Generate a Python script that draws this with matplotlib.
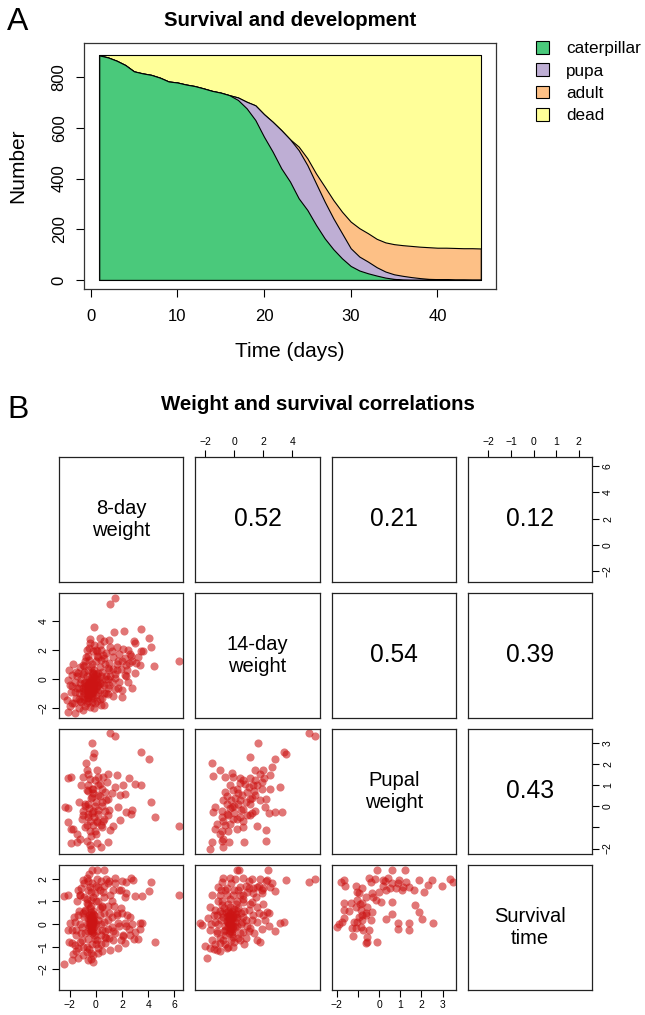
import matplotlib
matplotlib.use("Agg")
import matplotlib.pyplot as plt
from matplotlib.patches import Patch
import numpy as np

plt.rcParams['font.family'] = ['Liberation Sans', 'DejaVu Sans']

W, H = 645, 1015

# ---- panel A: numbers in each stage per day
days = np.arange(1, 46)
total = 886
caterpillar = [886, 878, 865, 848, 823, 815, 809, 798, 783, 779, 771, 765, 756, 746, 739,
               729, 710, 677, 631, 565, 506, 440, 388, 322, 276, 217, 164, 121, 85, 55,
               37, 26, 17, 9, 4, 1, 0, 0, 0, 0, 0, 0, 0, 0, 0]
pupa = [0, 0, 0, 0, 0, 0, 0, 0, 0, 0, 0, 0, 0, 0, 0,
        0, 10, 26, 58, 89, 118, 151, 167, 190, 177, 164, 145, 122, 99, 70,
        55, 46, 33, 24, 18, 15, 11, 7, 4, 3, 3, 1, 1, 0, 0]
adult = [0, 0, 0, 0, 0, 0, 0, 0, 0, 0, 0, 0, 0, 0, 0,
         0, 0, 0, 0, 0, 0, 0, 0, 14, 27, 39, 59, 72, 85, 105,
         112, 112, 112, 115, 119, 121, 123, 124, 125, 124, 124, 125, 124, 125, 124]
stages = ['caterpillar', 'pupa', 'adult', 'dead']
stage_colours = ['#4AC97B', '#BEAED4', '#FDC086', '#FFFF99']

# ---- panel B: standardised weights and survival
variables = ['8-day\nweight', '14-day\nweight', 'Pupal\nweight', 'Survival\ntime']
correlations = ['0.52', '0.21', '0.12', '0.54', '0.39', '0.43']

w8_w14 = [(1.45, 5.56), (1.12, 5.15), (6.32, 1.2), (-0.15, 3.55), (1.4, 3.24), (2.19, 3.26), (3.48, 3.43),
          (4.07, 2.83), (4.2, 2.16), (2.93, 2.62), (3.03, 2.46), (3.48, 1.93), (4.48, 0.9), (3.41, 0.97),
          (2.49, -0.21), (2.8, -0.6), (1.99, -1.24), (-0.43, 2.74), (-0.48, 2.44), (0.3, 2.8), (0.98, 2.69),
          (1.6, 2.16), (2.09, 2.05), (2.48, 2.0), (2.72, 1.54), (3.1, 1.08), (-0.76, 1.47), (-1.72, 1.01),
          (-2.05, 0.62), (-2.15, -0.07), (-1.8, 0.23), (-1.97, -0.41), (-2.4, -1.15), (-2.23, -1.45),
          (-2.15, -2.3), (-1.59, -2.37), (-1.01, -2.18), (-0.45, -1.91), (-0.07, -1.68), (0.44, -1.33),
          (0.95, -1.06), (1.7, -0.64), (2.21, 0.28), (1.45, 0.05), (0.95, 0.74), (1.7, 1.2), (2.34, 0.97),
          (0.56, 1.66), (0.06, 1.89), (-0.96, 0.97), (-1.34, 0.39), (-1.47, -0.64), (-1.85, -1.68),
          (-1.21, -1.56), (-0.71, -1.33), (-0.96, -0.87),
          (-1.2, -0.3), (-1.0, 0.3), (-1.3, -1.0), (-1.5, -1.3), (-1.1, -1.6), (-0.7, -1.7), (-0.3, -1.6),
          (0.3, -1.4), (0.6, -1.0), (0.9, -0.6), (1.2, -0.2), (0.8, 0.2), (1.0, 0.6), (0.7, 1.0), (0.4, 1.3),
          (0.1, 1.6), (-0.2, 1.9), (-0.5, 2.1), (0.3, 2.3), (0.8, 1.8), (1.3, 1.5), (1.6, 1.0), (1.9, 0.7),
          (2.2, 1.4), (2.6, 1.7), (3.0, 0.4), (1.5, 0.3), (1.8, -0.2), (2.0, -0.8), (1.3, -1.2), (0.6, -1.8),
          (-0.8, 1.2), (-1.2, 0.8), (-1.6, -0.2), (-1.9, -0.9), (-1.4, 0.2), (-0.6, 1.6), (0.0, 2.0),
          (0.6, 2.6), (1.1, 2.2), (2.4, 0.6), (2.8, 1.2), (3.2, 1.5), (3.6, 1.9), (0.5, -0.3), (0.9, 0.0),
          (-0.9, 0.5), (-1.7, -1.7), (-0.1, -2.0), (0.4, -1.8),
          (-1.3, -0.6), (-1.1, 0.0), (-0.9, -0.3), (-0.7, 0.2), (-0.6, 0.6), (-0.3, 1.0), (0.0, 1.2),
          (0.3, 0.8), (0.5, 0.5), (0.7, 0.0), (0.6, -0.4), (0.3, -0.8), (0.0, -1.1), (-0.3, -1.2),
          (-0.6, -1.5), (-1.0, -1.2), (-1.3, -1.4), (-1.6, -0.9), (-1.8, -0.5), (-1.5, 0.5), (-0.9, 0.9),
          (-0.5, 1.3), (0.2, 1.5), (0.6, 1.4), (1.0, 1.1), (1.3, 0.7), (1.1, 0.2), (1.0, -0.4), (0.8, -1.0),
          (0.1, -1.5), (-0.8, -1.9), (-1.3, -2.0), (-2.0, -1.9), (1.6, 0.6), (2.0, 1.2), (1.8, 1.7),
          (1.2, 1.9), (0.4, 2.0), (-0.1, 2.3), (-0.7, 2.0), (2.5, 1.1), (2.3, 0.2), (1.5, -0.7), (0.2, -0.4),
          (-0.1, -0.8), (-0.6, -0.2), (-0.8, -0.5), (-0.2, 0.4), (0.1, 0.2), (-0.5, -1.1),
          (-0.6, -0.9), (-0.5, -0.7), (-0.4, -0.5), (-0.3, -0.3), (-0.2, -0.1), (-0.1, 0.1), (0.0, 0.3),
          (-0.7, -1.1), (-0.5, -1.0), (-0.3, -0.8), (-0.2, -0.6), (-0.1, -0.4), (0.1, -0.2), (0.2, 0.0),
          (-0.6, -0.5), (-0.5, -0.3), (-0.4, -0.1), (-0.3, 0.1), (-0.2, 0.3), (-0.8, -0.7), (-0.7, -0.4),
          (-0.4, -1.2), (-0.2, -0.9), (0.0, -0.6), (0.1, -0.5), (-0.9, -1.0), (-0.6, -1.3), (0.0, 0.0),
          (0.2, 0.4), (-0.1, 0.6), (-0.3, 0.5), (-0.5, 0.0), (-0.8, -0.2), (-1.0, -0.6), (-0.9, -1.4),
          (0.3, -0.3), (0.4, 0.2), (-0.2, -1.3), (0.2, -0.9), (-0.4, 0.8),
          (-0.45, -0.55), (-0.35, -0.65), (-0.5, -0.75), (-0.3, -0.45), (-0.4, -0.85), (-0.25, -0.7),
          (-0.55, -0.4), (-0.2, -0.5), (-0.45, -0.3), (-0.35, -0.2), (-0.6, -0.7), (-0.3, -0.95),
          (-0.15, -0.3), (-0.5, -0.9), (-0.4, -0.4), (-0.3, -0.6), (-0.45, -0.7), (-0.25, -0.35),
          (-0.55, -0.6), (-0.35, -0.8), (-0.42, -0.62), (-0.33, -0.52), (-0.48, -0.82), (-0.27, -0.58),
          (-0.38, -0.72), (-0.52, -0.52), (-0.22, -0.42), (-0.32, -0.38), (-0.42, -0.95), (-0.58, -0.85)]

w8_pupal = [(1.12, 3.44), (1.45, 3.32), (-0.27, 2.97), (-0.12, 2.49), (-0.2, 2.33), (-0.78, 2.02), (3.48, 2.57),
            (4.07, 2.22), (-2.1, 1.33), (-1.89, 1.38), (-0.71, 1.7), (0.06, 1.7), (0.95, 1.54), (1.58, 1.46),
            (2.52, 1.35), (3.48, 0.98), (3.0, 1.06), (2.09, 0.98), (1.45, 0.9), (-1.14, 1.02), (-0.58, 0.98),
            (0.31, 1.06), (0.69, 0.67), (1.83, 0.51), (2.21, 0.59), (4.19, 0.19), (-2.35, -0.02), (-2.1, -0.08),
            (-1.29, 0.19), (-0.83, 0.11), (1.66, -0.02), (2.34, -0.29), (2.77, -0.17), (2.72, -0.37),
            (4.5, -0.49), (6.32, -0.92), (-2.1, -0.76), (-1.72, -1.08), (-1.89, -1.08), (1.83, -0.63),
            (1.33, -0.92), (1.05, -1.13), (-1.47, -1.32), (-1.21, -1.56), (-1.89, -1.75), (-1.4, -1.71),
            (-0.71, -1.63), (-0.38, -2.03), (-0.45, -1.83), (0.11, -1.75), (0.36, -1.92), (0.95, -1.68),
            (-0.83, -1.0), (-0.45, -1.16), (-0.07, -1.16), (0.44, -1.0), (-1.09, -0.6), (-0.58, -0.37),
            (-0.2, -0.21), (0.18, -0.37), (0.69, -0.21), (0.95, -0.44), (0.56, -0.68), (0.06, -0.76),
            (-0.45, -0.68), (-0.96, -0.21), (-0.58, 0.11), (-0.07, 0.03), (0.44, 0.19), (0.95, 0.35),
            (-0.32, 0.43), (0.13, 0.51), (-0.71, 0.75), (-0.2, 0.83), (0.44, 0.83), (-0.45, 1.3), (0.18, 1.38),
            (0.56, 1.38), (0.82, 1.14), (-0.07, 1.22), (-0.96, 1.38), (-0.58, 1.54),
            (-0.3, -0.3), (-0.1, -0.5), (-0.5, -0.1), (0.2, -0.2), (0.0, 0.2), (-0.4, 0.4), (0.3, 0.5),
            (-0.6, -0.5), (-0.2, -0.9), (0.1, -0.7), (-0.8, 0.0), (0.5, 0.0), (-0.3, 0.8), (0.2, 1.0),
            (-0.6, 0.7), (0.6, -0.6), (-1.0, -0.4), (0.8, 0.3), (-0.2, 0.6), (0.4, -0.9), (-0.7, -0.9),
            (0.0, -1.3), (-0.4, -1.4), (1.2, 0.6), (1.0, -0.2)]

w14_pupal = [(5.13, 3.44), (5.59, 3.32), (1.63, 2.97), (1.06, 2.33), (3.45, 2.57), (3.59, 2.46), (2.83, 2.21),
             (-1.54, 2.02), (-0.97, 1.73), (-1.43, 1.43), (-0.62, 1.38), (-0.16, 1.57), (-0.09, 1.38),
             (0.41, 1.35), (1.45, 1.7), (1.79, 1.54), (1.98, 1.73), (2.6, 1.86), (2.48, 1.46), (2.07, 1.35),
             (1.1, 1.33), (3.17, 0.9), (2.48, 0.83), (1.91, 0.83), (1.33, 0.98), (0.76, 1.06), (-0.28, 0.98),
             (0.18, 0.83), (-0.74, 0.27), (-1.31, -0.05), (-1.47, -0.29), (2.83, -0.29), (3.29, -0.29),
             (2.41, -0.33), (2.14, -0.05), (1.79, 0.3), (2.21, 0.35), (-0.85, -0.21), (-0.51, -0.37),
             (-0.16, -0.05), (0.3, 0.11), (0.64, -0.13), (1.1, 0.11), (1.45, -0.21), (1.1, -0.44), (0.41, -0.52),
             (-0.05, -0.6), (-0.74, -0.68), (-1.2, -0.84), (-1.31, -1.08), (-0.85, -1.16), (-0.39, -1.16),
             (0.18, -1.08), (0.64, -1.0), (1.56, -0.92), (2.21, -1.13), (2.21, -1.63), (0.71, -1.71),
             (-0.32, -1.71), (-0.74, -1.56), (-0.97, -1.32), (-1.54, -1.71), (-1.66, -2.03), (-0.74, -1.95),
             (-0.85, -1.63), (-0.28, -0.84), (-0.51, 0.11), (0.07, 0.4), (0.53, 0.51), (0.87, 0.67), (1.45, 0.51),
             (1.1, 0.35), (0.41, 0.27), (-0.62, 0.67), (-0.05, 0.75), (1.91, 1.14), (1.45, 1.22), (0.64, 1.22),
             (0.5, -0.2), (0.0, -0.3), (-0.4, -0.4), (0.8, 0.2), (0.3, 0.6), (-0.2, 0.3), (1.2, 0.4), (0.6, -0.7),
             (-0.6, -0.9), (0.2, -0.6), (1.0, 0.9), (-0.3, -0.1), (0.9, -0.4), (1.4, 0.7), (0.0, 0.0),
             (-0.8, -0.5), (1.6, 1.0), (0.4, 1.1), (-0.5, 0.5), (1.2, -0.3)]

w8_surv = [(-0.27, 2.4), (0.06, 2.4), (0.64, 2.37), (6.32, 1.29), (4.24, 1.88), (4.07, 1.48), (2.72, 2.03),
           (2.85, 1.93), (2.34, 1.88), (1.45, 2.03), (-2.4, 1.24), (-2.1, 1.27), (-1.34, 1.51), (-1.21, 1.29),
           (-0.96, 1.96), (-0.71, 2.03), (0.95, 1.81), (1.33, 1.51), (1.91, 1.51), (2.34, 1.36), (2.98, 1.24),
           (3.54, 1.24), (1.96, 0.7), (1.58, 0.47), (3.36, 0.06), (3.54, 0.06), (3.36, -0.24), (4.5, -0.8),
           (2.98, -0.34), (2.93, -0.68), (3.23, -0.68), (2.09, -0.53), (2.21, -0.86), (2.6, -0.49),
           (-1.97, 0.06), (-2.1, -0.27), (-1.85, -0.27), (-1.54, -0.27), (-2.05, -0.79), (-1.85, -0.86),
           (-1.59, -0.93), (-1.34, -1.04), (-1.72, -1.33), (-1.34, -1.48), (-0.96, -1.35), (-0.58, -1.57),
           (-0.38, -1.53), (-0.2, -1.38), (-0.71, -1.23), (-2.45, -1.78), (-1.85, -1.6), (0.18, -1.08),
           (0.69, -0.86), (1.33, -0.71), (1.7, -1.04), (1.07, -1.16), (-0.71, 0.92), (-0.38, 1.07),
           (-0.07, 1.36), (-0.83, 0.62), (-1.34, 0.4), (-1.09, -0.12), (0.44, 0.77), (0.95, 0.18),
           (0.44, -0.27), (1.2, -0.12), (1.7, 0.03), (2.21, 0.03), (0.69, -0.56), (-0.07, -0.64),
           (-0.58, -0.64), (-1.09, -0.71), (0.18, 1.66), (0.56, 1.44), (-0.45, 1.66),
           (0.3, 0.4), (0.6, 0.1), (0.9, -0.2), (1.2, 0.3), (1.5, -0.4), (1.8, -0.1), (2.1, -0.5), (2.5, -0.2),
           (0.4, -0.9), (0.8, -0.6), (-0.9, 0.3), (-1.1, -0.4), (-1.3, 0.6), (-0.7, 1.1), (-0.2, 1.2),
           (0.2, 1.0), (0.5, 0.8), (-0.6, 1.5), (-0.3, 1.8), (0.1, 2.0), (0.3, 1.5), (-0.9, 1.8), (0.8, 2.0),
           (1.1, 1.3), (1.5, 1.8), (2.0, 1.9), (0.6, 1.2), (-1.6, 0.1), (-1.0, -1.0), (-0.5, -1.1),
           (0.0, -0.9), (0.2, -1.3), (-0.2, -1.7), (1.0, 0.5), (1.4, 0.8), (2.4, 0.4), (2.8, 0.0),
           (-1.2, 1.3), (-0.5, 2.2), (0.4, 1.9),
           (-1.2, 0.0), (-1.0, 0.5), (-0.8, -0.4), (-0.6, 0.9), (-0.9, 1.2), (-0.4, 1.4), (0.0, 1.0),
           (0.3, 0.7), (0.6, 0.5), (0.9, 0.8), (1.2, 1.0), (0.7, -0.3), (1.0, -0.6), (1.3, -0.3), (1.6, 0.4),
           (0.4, -0.5), (0.1, -0.7), (-0.3, -0.9), (-0.7, -1.0), (-1.2, -0.8), (-1.5, -0.5), (-1.7, 0.3),
           (-1.4, 1.0), (-1.1, 1.6), (-0.6, 1.9), (0.0, 1.7), (0.6, 1.7), (1.0, 1.9), (1.8, 1.5), (2.2, 1.2),
           (2.0, 0.5), (2.6, 0.3), (2.3, -0.1), (1.9, -0.7), (0.5, -1.2), (-0.4, -1.3), (-1.5, -1.2),
           (0.2, 0.2), (0.4, 0.0), (-0.8, 0.6),
           (-0.33, 0.1), (-0.4, 0.2), (-0.25, 0.0), (-0.45, -0.1), (-0.3, 0.35), (-0.2, 0.25), (-0.5, 0.4),
           (-0.35, -0.25), (-0.15, -0.15), (-0.55, 0.05), (-0.4, 0.55), (-0.25, 0.6), (-0.3, -0.4),
           (-0.6, -0.3), (-0.1, 0.15), (-0.45, 0.3), (-0.35, 0.0), (-0.2, -0.35), (-0.5, -0.15), (-0.3, 0.2),
           (-0.4, -0.05), (-0.25, 0.45), (-0.6, 0.25), (-0.15, 0.4), (-0.45, 0.7), (0.0, 0.0), (0.1, -0.3),
           (-0.7, 0.0), (-0.35, 0.8), (-0.1, -0.5), (-0.32, 0.12), (-0.38, 0.28), (-0.28, -0.08),
           (-0.42, 0.05), (-0.22, 0.18), (-0.36, 0.42), (-0.48, 0.22), (-0.3, -0.2), (-0.4, -0.3), (-0.18, 0.05)]

w14_surv = [(0.18, 2.4), (0.37, 2.4), (2.32, 2.37), (5.13, 1.88), (5.59, 1.99), (3.59, 1.93), (-2.34, 0.06),
            (-2.23, -0.04), (-1.89, -1.5), (-2.0, -0.98), (-1.66, -1.08), (-1.2, -1.16), (-0.74, 2.03),
            (-0.28, 2.03), (0.07, 1.99), (0.64, 2.03), (1.22, 1.99), (1.79, 1.99), (2.25, 1.96), (-0.85, 1.88),
            (2.48, 1.66), (2.83, 1.48), (-1.08, 1.66), (-0.51, 1.59), (0.41, 1.66), (0.99, 1.59), (1.56, 1.66),
            (2.02, 1.59), (-1.54, 1.29), (-0.97, 1.29), (-0.05, 1.29), (0.64, 1.29), (1.33, 1.36), (1.91, 1.36),
            (1.22, 0.99), (0.64, 0.99), (-1.66, 0.77), (-1.31, 0.62), (-0.85, 0.84), (-0.28, 0.77), (0.3, 0.7),
            (0.99, 0.62), (1.56, 0.77), (2.25, 0.55), (2.41, 0.47), (2.14, 0.18), (3.17, 0.06), (3.4, 0.1),
            (2.83, -0.3), (1.56, -0.71), (1.75, -0.79), (1.1, -0.19), (0.64, -0.34), (-0.05, -0.56),
            (-0.74, -0.71), (-1.2, -0.41), (-1.66, -0.27), (-1.77, 0.25), (-1.31, 0.1), (-0.05, -1.01),
            (-0.51, -1.08), (-0.97, -0.86), (0.41, -0.71), (-0.74, 0.33), (-0.39, 0.03), (0.07, -0.12),
            (0.53, 0.1), (-0.28, 0.47), (0.18, 0.33), (-0.62, -0.27), (-0.16, -0.34),
            (0.5, 0.5), (0.8, 0.2), (1.0, -0.3), (1.3, 0.4), (1.6, 0.1), (1.9, -0.2), (0.4, -0.4), (0.7, -0.9),
            (-0.9, 0.2), (-1.2, -0.3), (-1.4, 0.4), (-0.8, 1.0), (-0.3, 1.1), (0.2, 1.0), (0.6, 1.1),
            (-1.0, -0.6), (-0.6, -0.9), (0.0, -0.8), (1.1, 0.9), (-1.5, -0.7), (-1.0, 0.6), (2.0, 0.4),
            (0.3, 1.5), (-0.6, 1.5), (1.7, 1.7), (2.6, 1.8), (1.0, 1.9), (-0.2, 1.8), (0.9, 1.4), (1.5, 1.2),
            (-1.1, 0.0), (-0.8, 0.5), (-0.6, -0.5), (-0.4, 0.9), (0.1, 0.9), (0.5, 0.0), (0.7, 0.6), (0.9, -0.1),
            (1.2, 0.2), (1.4, -0.4), (0.3, -0.6), (-0.2, -0.7), (-0.7, -0.3), (-1.3, -0.9), (-1.6, 0.0),
            (-1.1, 1.0), (-0.5, 1.3), (0.4, 1.3), (0.8, 1.7), (1.3, 1.6), (1.9, 1.5), (2.2, 1.9), (2.0, 0.9),
            (1.7, 0.5), (2.4, -0.1), (0.8, -0.6), (-0.4, -1.0), (-1.0, -1.2), (-1.4, -1.1), (0.0, 1.5),
            (-0.9, 1.5), (-1.2, 0.4), (0.6, 0.3), (0.2, 0.6), (-0.7, 0.7),
            (-0.28, 0.1), (-0.35, 0.25), (-0.2, -0.05), (-0.4, -0.15), (-0.1, 0.3), (-0.3, 0.45), (-0.15, 0.6),
            (-0.45, 0.1), (-0.05, -0.2), (-0.25, -0.3), (0.05, 0.1), (-0.5, 0.35), (-0.2, 0.2), (-0.35, -0.4),
            (0.1, 0.45), (-0.6, -0.1), (-0.3, 0.0), (-0.15, -0.45), (0.2, -0.1), (-0.4, 0.6), (-0.25, 0.3),
            (0.0, 0.65), (-0.55, 0.55), (0.15, 0.25), (-0.1, -0.1), (-0.3, 0.12), (-0.22, 0.28), (-0.38, 0.0),
            (-0.12, 0.08), (-0.32, 0.35), (-0.18, -0.2), (-0.42, 0.3), (-0.08, 0.42), (-0.28, -0.15),
            (-0.5, 0.15)]

pupal_surv = [(-0.08, 2.4), (0.63, 2.37), (1.22, 2.37), (-1.82, 1.88), (-1.66, 1.93), (-1.61, 1.69), (3.35, 1.99),
              (3.48, 1.88), (2.97, 1.69), (2.5, 1.93), (2.29, 1.73), (1.87, 1.93), (1.66, 1.51), (2.14, 1.44),
              (-1.08, 1.69), (-0.95, 1.36), (-1.03, 1.44), (-0.79, 1.59), (-0.47, 2.03), (-0.4, 1.84),
              (-0.19, 1.99), (0.16, 1.96), (0.4, 2.03), (0.63, 1.81), (0.95, 1.96), (1.27, 1.88), (1.42, 1.66),
              (1.11, 1.66), (0.79, 1.59), (0.32, 1.51), (0.0, 1.44), (-0.32, 1.36), (-0.63, 1.21), (-0.16, 1.07),
              (0.08, 0.99), (0.63, 0.99), (1.71, 0.84), (1.9, 0.55), (-1.66, 0.92), (-1.34, 0.95), (-1.66, 0.62),
              (-1.42, 0.59), (-1.11, 0.77), (-0.87, 0.62), (-0.55, 0.77), (-0.32, 0.55), (0.63, 0.44),
              (0.32, 0.21), (0.87, 0.06), (0.87, -0.24), (1.42, 0.06), (1.42, -0.27), (2.03, 0.21), (2.56, 0.06),
              (-1.66, 0.25), (-1.74, 0.1), (-1.98, -0.12), (-1.9, 0.0), (-1.27, -0.19), (-1.11, -0.19),
              (-1.03, 0.1), (-0.79, 0.18), (-0.87, -0.12), (-0.47, -0.27), (-0.76, -0.27), (-1.23, -0.53),
              (-0.55, -0.59), (-0.55, -0.79), (-0.11, -0.79), (-0.63, -0.86), (-1.19, 0.1), (-0.95, 0.33),
              (-0.63, 0.4), (-1.03, 1.07), (-0.79, 0.92),
              (-0.6, 0.5), (-0.9, 0.9), (-0.3, 1.2), (0.2, 1.7), (0.5, 1.6), (0.9, 1.8), (-0.4, 0.2), (-0.8, 0.4),
              (0.3, 1.9), (1.1, 1.5)]

# panel grid: which pair sits in which lower-triangle cell (row, col)
scatter_cells = {(1, 0): w8_w14, (2, 0): w8_pupal, (2, 1): w14_pupal,
                 (3, 0): w8_surv, (3, 1): w14_surv, (3, 2): pupal_surv}
corr_cells = [(0, 1), (0, 2), (0, 3), (1, 2), (1, 3), (2, 3)]
var_lims = [(-2.81, 6.68), (-2.67, 5.88), (-2.24, 3.63), (-2.9, 2.6)]
var_ticks = [[-2, 0, 2, 4, 6], [-2, 0, 2, 4], [-2, -1, 0, 1, 2, 3], [-2, -1, 0, 1, 2]]
var_ticklabels = [['\u22122', '0', '2', '4', '6'], ['\u22122', '0', '2', '4'],
                  ['\u22122', '', '0', '1', '2', '3'], ['\u22122', '\u22121', '0', '1', '2']]


def px_box(x, y, w, h):
    return [x / W, 1 - (y + h) / H, w / W, h / H]


fig = plt.figure(figsize=(W / 100, H / 100), dpi=100)

# ================= panel A =================
axA = fig.add_axes(px_box(84, 42.7, 412, 246.3))
cat = np.array(caterpillar)
pup = np.array(pupa)
adu = np.array(adult)
tops = [np.full(len(days), total), cat + pup + adu, cat + pup, cat]
for top, c in zip(tops, stage_colours[::-1]):
    axA.fill_between(days, 0, top, facecolor=c, edgecolor='black', linewidth=0.8)
axA.set_xlim(-0.76, 46.76)
axA.set_ylim(-36, 936)
axA.set_xticks([0, 10, 20, 30, 40])
axA.set_yticks([0, 200, 400, 600, 800])
axA.tick_params(direction='out', length=5.5, width=0.8, labelsize=12, pad=9)
axA.tick_params(axis='y', labelrotation=90, pad=7)
for lab in axA.get_yticklabels():
    lab.set_va('center')
for s in axA.spines.values():
    s.set_linewidth(0.9)
    s.set_color('#333333')

fig.text(18 / W, 1 - 22 / H, 'A', fontsize=23, ha='center', va='center')
fig.text(290 / W, 1 - 20 / H, 'Survival and development', fontsize=14.7, fontweight='bold',
         ha='center', va='center')
fig.text(18 / W, 1 - 166 / H, 'Number', fontsize=15, rotation=90, ha='center', va='center')
fig.text(290 / W, 1 - 352 / H, 'Time (days)', fontsize=15, ha='center', va='center')

handles = [Patch(facecolor=c, edgecolor='black', linewidth=0.8) for c in stage_colours]
fig.legend(handles, stages, loc='upper left', bbox_to_anchor=(536 / W, 1 - 41 / H),
           frameon=False, fontsize=12.3, handlelength=0.75, handleheight=0.75,
           handletextpad=1.0, labelspacing=0.42, borderaxespad=0, borderpad=0)

# ================= panel B =================
fig.text(18 / W, 1 - 410 / H, 'B', fontsize=23, ha='center', va='center')
fig.text(318 / W, 1 - 404 / H, 'Weight and survival correlations', fontsize=14.7,
         fontweight='bold', ha='center', va='center')

col_left = [59, 195.3, 331.7, 468]
row_top = [457.3, 593.3, 729.3, 865.3]
size = 124.3

for i in range(4):
    for j in range(4):
        ax = fig.add_axes(px_box(col_left[j], row_top[i], size, size))
        ax.set_xlim(var_lims[j])
        ax.set_ylim(var_lims[i])
        ax.set_xticks([])
        ax.set_yticks([])
        for s in ax.spines.values():
            s.set_linewidth(0.9)
            s.set_color('#222222')
        if i == j:
            ax.text(0.5, 0.5, variables[i], transform=ax.transAxes, ha='center', va='center',
                    fontsize=14.5, linespacing=1.15)
        elif (i, j) in corr_cells:
            ax.text(0.5, 0.5, correlations[corr_cells.index((i, j))], transform=ax.transAxes,
                    ha='center', va='center', fontsize=17.7)
        else:
            pts = np.array(scatter_cells[(i, j)])
            ax.scatter(pts[:, 0], pts[:, 1], s=34, color=(0.8, 0.08, 0.08), alpha=0.58,
                       linewidths=0)
        # outer axes, alternating sides as in R pairs()
        if i == 0 and j in (1, 3):
            ax.set_xticks(var_ticks[j], var_ticklabels[j])
            ax.xaxis.set_ticks_position('top')
        if i == 3 and j in (0, 2):
            ax.set_xticks(var_ticks[j], var_ticklabels[j])
            ax.xaxis.set_ticks_position('bottom')
        if j == 0 and i in (1, 3):
            ax.set_yticks(var_ticks[i], var_ticklabels[i])
            ax.yaxis.set_ticks_position('left')
            ax.tick_params(axis='y', labelrotation=90)
        if j == 3 and i in (0, 2):
            ax.set_yticks(var_ticks[i], var_ticklabels[i])
            ax.yaxis.set_ticks_position('right')
            ax.tick_params(axis='y', labelrotation=90)
        ax.tick_params(direction='out', length=5.2, width=0.8, labelsize=7.5, pad=2.5)
        for lab in ax.get_yticklabels():
            lab.set_va('center')

fig.savefig('out.png', dpi=100)
